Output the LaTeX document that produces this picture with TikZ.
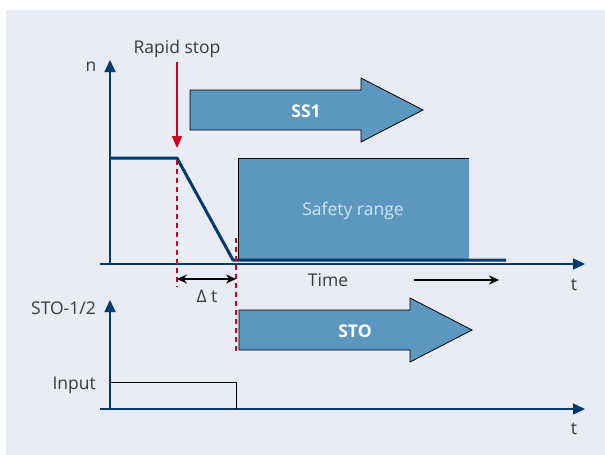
\documentclass[tikz,border=0pt]{standalone}
\usepackage{fontspec}
\setmainfont{Open Sans}
\usetikzlibrary{arrows.meta}
\definecolor{bgcol}{HTML}{E9ECF4}
\definecolor{axisblue}{HTML}{003B6F}
\definecolor{boxblue}{HTML}{5B97BE}
\definecolor{stopred}{HTML}{D6001C}
\definecolor{textgray}{HTML}{3A3A3A}
\definecolor{lighttext}{HTML}{D5E3EE}

\begin{document}
\begin{tikzpicture}[x=1pt,y=-1pt,font=\fontsize{17.5}{20}\selectfont]
    \tikzstyle{axis}=[draw=axisblue,line width=1.5pt,-{Triangle[length=12pt,width=11pt]}]
    \tikzstyle{label}=[text=textgray,inner sep=0pt,anchor=base]
    \tikzstyle{block}=[draw=black,fill=boxblue,line width=0.8pt]
    \tikzstyle{stopline}=[draw=stopred,line width=1.3pt,dash pattern=on 5pt off 4pt]
    \tikzstyle{span}=[draw=black,line width=1.2pt,-{Stealth[length=10pt,width=9pt]}]
    \useasboundingbox (0,0) rectangle (605,455);
    \fill[bgcol] (6,10) rectangle (605,455);

    % time axes
    \foreach \name/\y/\top in {up/264/60, low/409/300} {
        \coordinate (O-\name) at (110,\y);
        \draw[axis] (100,\y) -- (585,\y);
        \draw[axis] (O-\name) -- (110,\top);
    }
    \node[label] (t-up) at (574,290) {t};
    \node[label] (t-low) at (574,434) {t};
    \node[label] (n) at (91,71) {n};
    \node[label,anchor=base east] (sto-lab) at (96,314) {STO-1/2};
    \node[label,anchor=base east] (input) at (96,389) {Input};

    % safety range
    \fill[boxblue] (238,158) rectangle (469,261);
    \draw[black,line width=0.8pt] (238,261) -- (238,158) -- (469,158);
    \node[label,text=lighttext] (safe) at (353,215) {Safety range};

    % speed curve
    \coordinate (S-a) at (110,158);
    \coordinate (S-b) at (177,158);
    \coordinate (S-c) at (233,260);
    \coordinate (S-d) at (506,260);
    \draw[axisblue,line width=3pt,line join=round] (S-a) -- (S-b) -- (S-c) -- (S-d);

    % rapid stop
    \node[label] (rapid) at (177,53) {Rapid stop};
    \coordinate (R-tip) at (177,148);
    \draw[stopred,line width=1.5pt,-{Triangle[length=12pt,width=10pt]}] (177,62) -- (R-tip);
    \coordinate (D-a) at (177,160);
    \coordinate (D-b) at (177,287);
    \coordinate (D-c) at (236,238);
    \coordinate (D-d) at (236,352);
    \draw[stopline] (D-a) -- (D-b);
    \draw[stopline] (D-c) -- (D-d);

    % delta t
    \coordinate (dt-a) at (177,279);
    \coordinate (dt-b) at (236,279);
    \draw[span,{Stealth[length=10pt,width=9pt]}-{Stealth[length=10pt,width=9pt]}] (dt-a) -- (dt-b);
    \node[label] (dt) at (207,302) {Δ t};

    % time
    \node[label] (time) at (328,286) {Time};
    \coordinate (T-a) at (414,280);
    \coordinate (T-b) at (499,280);
    \draw[span] (T-a) -- (T-b);

    % block arrows
    \foreach \name/\x/\y/\tx in {SS1/190/110/306, STO/239/330/355} {
        \draw[block,line join=miter] (\x,\y-20) -- ++(171,0) -- ++(0,-12) -- ++(62,32)
            -- ++(-62,32) -- ++(0,-12) -- ++(-171,0) -- cycle;
        \node[label,text=white,font=\fontsize{17.5}{20}\selectfont\bfseries] (A-\name) at (\tx,\y+7) {\name};
    }

    % input signal
    \coordinate (I-a) at (110,382);
    \coordinate (I-b) at (236,382);
    \coordinate (I-c) at (236,409);
    \draw[black,line width=1pt] (I-a) -- (I-b) -- (I-c);
\end{tikzpicture}
\end{document}
